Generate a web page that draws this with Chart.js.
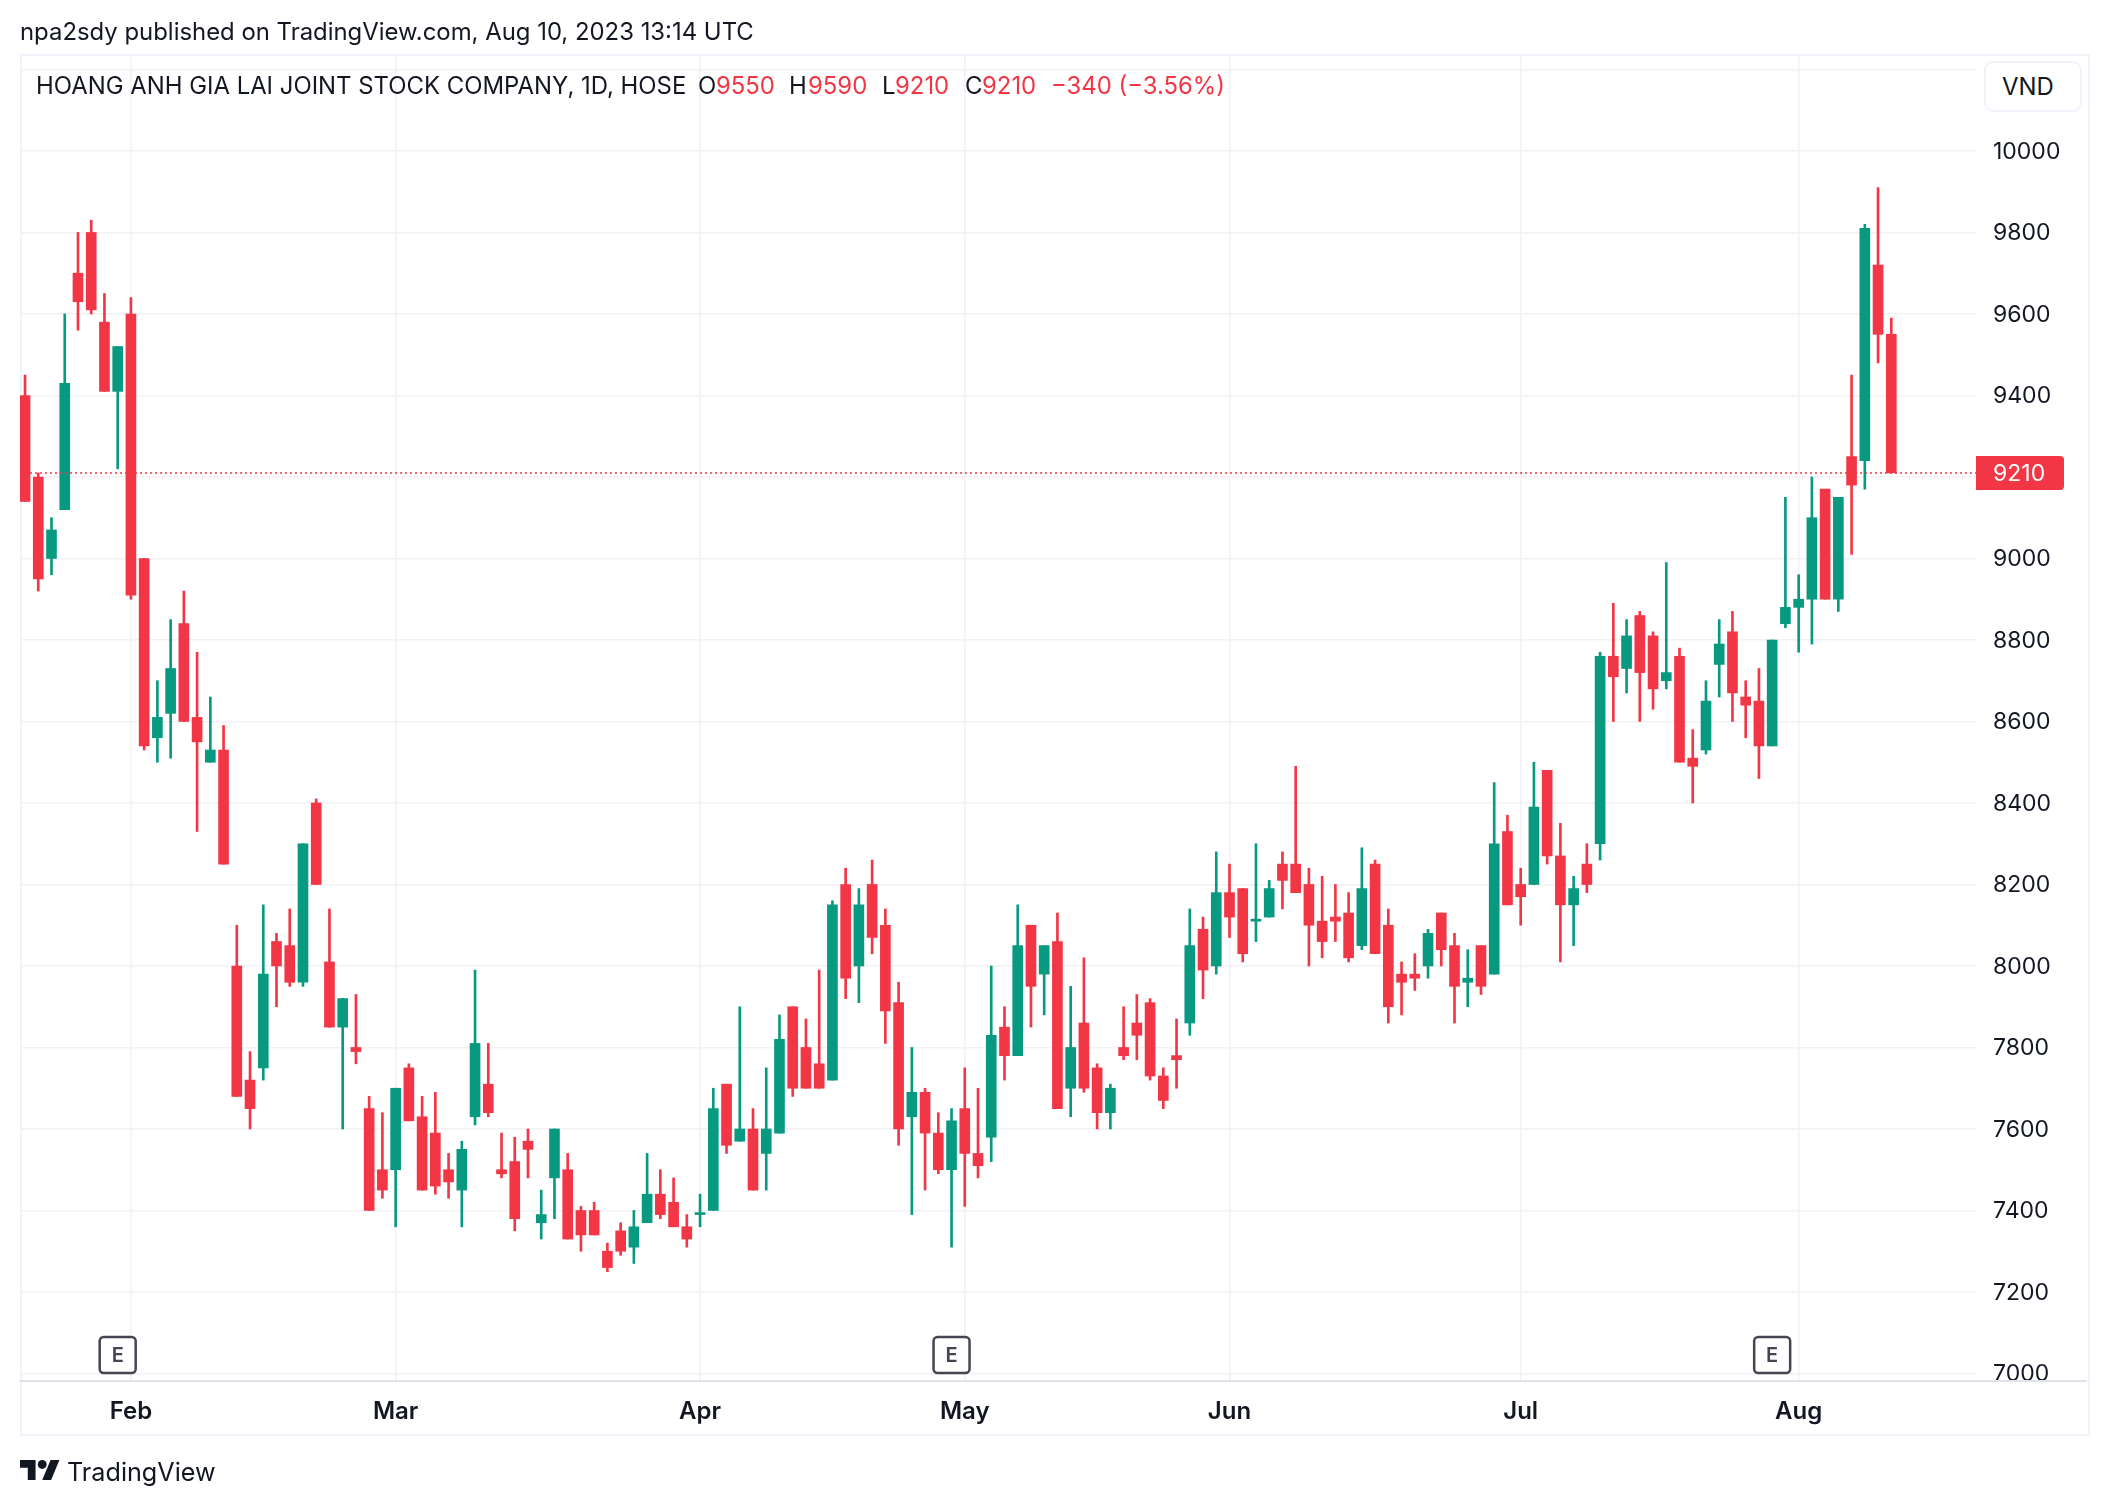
<!DOCTYPE html>
<html lang="en">
  <head>
    <meta charset="UTF-8" />
    <title>HAGL 1D</title>
    <script src="https://cdn.jsdelivr.net/npm/chart.js@4"></script>
    <style>
      body { margin: 0; background: #fff; font-family: Inter, sans-serif; color: #131722; }
      #wrap { position: relative; width: 2108px; height: 1506px; overflow: hidden; }
      #chart { position: absolute; left: 0; top: 0; }
      #frame { position: absolute; left: 20px; top: 54px; width: 2066px; height: 1378px; border: 2px solid #f0f3fa; }
      .t { position: absolute; font-size: 23.9px; line-height: 28px; white-space: nowrap; }
      .r { color: #f23645; }
      #vnd { position: absolute; left: 1984px; top: 61px; width: 94px; height: 47px; border: 2px solid #f0f3fa; border-radius: 9px;
             font-size: 23.9px; line-height: 47px; text-align: left; text-indent: 16px; background: #fff; }
    </style>
  </head>
  <body>
    <div id="wrap">
      <div id="frame"></div>
      <canvas id="chart" width="2108" height="1506"></canvas>
      <div class="t" style="left:20px;top:18px">npa2sdy published on TradingView.com, Aug 10, 2023 13:14 UTC</div>
      <div class="t" style="left:36px;top:72px">HOANG ANH GIA LAI JOINT STOCK COMPANY, 1D, HOSE</div>
      <div class="t" style="left:698px;top:72px">O</div>
      <div class="t r" style="left:716px;top:72px">9550</div>
      <div class="t" style="left:789px;top:72px">H</div>
      <div class="t r" style="left:808px;top:72px">9590</div>
      <div class="t" style="left:882px;top:72px">L</div>
      <div class="t r" style="left:895px;top:72px">9210</div>
      <div class="t" style="left:965px;top:72px">C</div>
      <div class="t r" style="left:982px;top:72px">9210</div>
      <div class="t r" style="left:1051px;top:72px">−340 (−3.56%)</div>
      <div id="vnd">VND</div>
      <svg style="position:absolute;left:20px;top:1460px" width="40" height="20" viewBox="0 4 36 18">
        <path fill="#131722" d="M14 22H7V11H0V4h14v18zM28 22h-8l7.5-18h8L28 22z" />
        <circle fill="#131722" cx="20" cy="8" r="4" />
      </svg>
      <div class="t" style="left:67px;top:1458px;font-size:25.2px">TradingView</div>
    </div>

    <script>
      const opens = [
        9400, 9200, 9000, 9120, 9700, 9800, 9580, 9410, 9600, 9000,
        8560, 8620, 8840, 8610, 8500, 8530, 8000, 7720, 7750, 8060,
        8050, 7960, 8400, 8010, 7850, 7800, 7650, 7500, 7500, 7750,
        7630, 7590, 7500, 7450, 7630, 7710, 7500, 7520, 7570, 7370,
        7480, 7500, 7400, 7400, 7300, 7350, 7310, 7370, 7440, 7420,
        7360, 7390, 7400, 7710, 7570, 7600, 7540, 7590, 7900, 7800,
        7760, 7720, 8200, 8000, 8200, 8100, 7910, 7630, 7690, 7590,
        7500, 7650, 7540, 7580, 7850, 7780, 8100, 7980, 8060, 7700,
        7860, 7750, 7640, 7800, 7860, 7910, 7730, 7780, 7860, 8090,
        8000, 8180, 8190, 8110, 8120, 8250, 8250, 8200, 8110, 8120,
        8130, 8050, 8250, 8100, 7980, 7980, 8000, 8130, 8050, 7960,
        8050, 7980, 8330, 8200, 8200, 8480, 8270, 8150, 8250, 8300,
        8760, 8730, 8860, 8810, 8700, 8760, 8510, 8530, 8740, 8820,
        8660, 8650, 8540, 8840, 8880, 8900, 9170, 8900, 9250, 9240,
        9720, 9550
      ];
      const highs = [
        9450, 9210, 9100, 9600, 9800, 9830, 9650, 9520, 9640, 9000,
        8700, 8850, 8920, 8770, 8660, 8590, 8100, 7790, 8150, 8080,
        8140, 8300, 8410, 8140, 7920, 7930, 7680, 7640, 7700, 7760,
        7680, 7690, 7540, 7570, 7990, 7810, 7590, 7580, 7600, 7450,
        7600, 7540, 7410, 7420, 7320, 7370, 7400, 7540, 7500, 7480,
        7390, 7440, 7700, 7710, 7900, 7650, 7750, 7880, 7900, 7870,
        7990, 8160, 8240, 8190, 8260, 8140, 7960, 7800, 7700, 7640,
        7650, 7750, 7700, 8000, 7900, 8150, 8100, 8050, 8130, 7950,
        8020, 7760, 7710, 7900, 7930, 7920, 7750, 7870, 8140, 8120,
        8280, 8250, 8190, 8300, 8210, 8280, 8490, 8240, 8220, 8200,
        8180, 8290, 8260, 8140, 8010, 8030, 8090, 8130, 8080, 8040,
        8050, 8450, 8370, 8240, 8500, 8480, 8350, 8220, 8300, 8770,
        8890, 8850, 8870, 8820, 8990, 8780, 8580, 8700, 8850, 8870,
        8700, 8730, 8800, 9150, 8960, 9200, 9170, 9150, 9450, 9820,
        9910, 9590
      ];
      const lows = [
        9140, 8920, 8960, 9120, 9560, 9600, 9410, 9220, 8900, 8530,
        8500, 8510, 8600, 8330, 8500, 8250, 7680, 7600, 7720, 7900,
        7950, 7950, 8200, 7850, 7600, 7760, 7400, 7430, 7360, 7620,
        7450, 7440, 7430, 7360, 7610, 7630, 7480, 7350, 7480, 7330,
        7380, 7330, 7300, 7340, 7250, 7290, 7270, 7370, 7380, 7360,
        7310, 7360, 7400, 7540, 7570, 7450, 7450, 7590, 7680, 7700,
        7700, 7720, 7920, 7910, 8030, 7810, 7560, 7390, 7450, 7490,
        7310, 7410, 7480, 7520, 7720, 7780, 7850, 7880, 7650, 7630,
        7690, 7600, 7600, 7770, 7770, 7720, 7650, 7700, 7830, 7920,
        7980, 8070, 8010, 8060, 8120, 8140, 8180, 8000, 8020, 8060,
        8010, 8040, 8030, 7860, 7880, 7940, 7970, 8000, 7860, 7900,
        7930, 7980, 8150, 8100, 8200, 8250, 8010, 8050, 8180, 8260,
        8600, 8670, 8600, 8630, 8680, 8500, 8400, 8520, 8660, 8600,
        8560, 8460, 8540, 8830, 8770, 8790, 8900, 8870, 9010, 9170,
        9480, 9210
      ];
      const closes = [
        9140, 8950, 9070, 9430, 9630, 9610, 9410, 9520, 8910, 8540,
        8610, 8730, 8600, 8550, 8530, 8250, 7680, 7650, 7980, 8000,
        7960, 8300, 8200, 7850, 7920, 7790, 7400, 7450, 7700, 7620,
        7450, 7460, 7470, 7550, 7810, 7640, 7490, 7380, 7550, 7390,
        7600, 7330, 7340, 7340, 7260, 7300, 7360, 7440, 7390, 7360,
        7330, 7390, 7650, 7560, 7600, 7450, 7600, 7820, 7700, 7700,
        7700, 8150, 7970, 8150, 8070, 7890, 7600, 7690, 7590, 7500,
        7620, 7540, 7510, 7830, 7780, 8050, 7950, 8050, 7650, 7800,
        7700, 7640, 7700, 7780, 7830, 7730, 7670, 7770, 8050, 7990,
        8180, 8120, 8030, 8110, 8190, 8210, 8180, 8100, 8060, 8110,
        8020, 8190, 8030, 7900, 7960, 7970, 8080, 8040, 7950, 7970,
        7950, 8300, 8150, 8170, 8390, 8270, 8150, 8190, 8200, 8760,
        8710, 8810, 8720, 8680, 8720, 8500, 8490, 8650, 8790, 8670,
        8640, 8540, 8800, 8880, 8900, 9100, 8900, 9150, 9180, 9810,
        9550, 9210
      ];
      const priceTicks = [7000, 7200, 7400, 7600, 7800, 8000, 8200, 8400, 8600, 8800, 9000, 9200, 9400, 9600, 9800, 10000, 10200];
      const monthBars = [8, 28, 51, 71, 91, 113, 134];
      const monthNames = ["Feb", "Mar", "Apr", "May", "Jun", "Jul", "Aug"];
      const earningsBars = [7, 70, 132];
      const lastPrice = closes[closes.length - 1];

      const UP = "#089981";
      const DOWN = "#f23645";
      const barColors = opens.map((o, i) => (closes[i] >= o ? UP : DOWN));

      // dotted last price line, price tag, axis line under the price column and the E markers
      const overlays = {
        id: "overlays",
        afterDatasetsDraw(chart) {
          const { ctx, scales, chartArea } = chart;
          const py = scales.y.getPixelForValue(lastPrice);
          ctx.save();
          ctx.strokeStyle = "#e0e3eb";
          ctx.lineWidth = 2;
          ctx.beginPath();
          ctx.moveTo(chartArea.right, chartArea.bottom);
          ctx.lineTo(2087, chartArea.bottom);
          ctx.stroke();

          ctx.strokeStyle = DOWN;
          ctx.lineWidth = 1.5;
          ctx.setLineDash([2, 3]);
          ctx.beginPath();
          ctx.moveTo(chartArea.left, py);
          ctx.lineTo(chartArea.right, py);
          ctx.stroke();
          ctx.setLineDash([]);

          ctx.fillStyle = DOWN;
          ctx.beginPath();
          ctx.roundRect(chartArea.right, py - 17, 88, 34, [0, 4, 4, 0]);
          ctx.fill();
          ctx.fillStyle = "#fff";
          ctx.font = "23px Inter";
          ctx.textBaseline = "middle";
          ctx.fillText(String(lastPrice), chartArea.right + 17, py + 1);

          earningsBars.forEach((b) => {
            const x = scales.x.getPixelForValue(b);
            ctx.fillStyle = "#fff";
            ctx.strokeStyle = "#434651";
            ctx.lineWidth = 2.5;
            ctx.beginPath();
            ctx.roundRect(x - 18, 1337, 36, 36, 4);
            ctx.fill();
            ctx.stroke();
            ctx.fillStyle = "#434651";
            ctx.font = "600 20px Inter";
            ctx.textAlign = "center";
            ctx.fillText("E", x, 1356);
          });
          ctx.restore();
        },
      };

      new Chart(document.getElementById("chart"), {
        type: "bar",
        data: {
          datasets: [
            {
              label: "wick",
              data: highs.map((h, i) => ({ x: i, y: [lows[i], h] })),
              backgroundColor: barColors,
              barThickness: 2,
              grouped: false,
              order: 2,
            },
            {
              label: "body",
              data: opens.map((o, i) => ({ x: i, y: [o, closes[i]] })),
              backgroundColor: barColors,
              barThickness: 10,
              minBarLength: 2,
              grouped: false,
              order: 1,
            },
          ],
        },
        options: {
          responsive: false,
          animation: false,
          layout: { padding: { left: 20, top: 56, right: 20, bottom: 69 } },
          plugins: { legend: { display: false }, tooltip: { enabled: false } },
          scales: {
            x: {
              type: "linear",
              offset: false,
              min: -0.38,
              max: 147.4,
              border: { display: true, color: "#e0e3eb", width: 2 },
              grid: { color: "#f2f2f5", lineWidth: 1.5, drawTicks: false, offset: false },
              afterBuildTicks: (s) => { s.ticks = monthBars.map((v) => ({ value: v })); },
              afterFit: (s) => { s.height = 56; },
              ticks: {
                autoSkip: false,
                maxRotation: 0,
                padding: 16,
                color: "#131722",
                font: { family: "Inter", size: 24, weight: "600" },
                callback: (v) => monthNames[monthBars.indexOf(v)],
              },
            },
            y: {
              position: "right",
              min: 6981.6,
              max: 10233,
              border: { display: false },
              grid: { color: "#f2f2f5", lineWidth: 1.5, drawTicks: false },
              afterBuildTicks: (s) => { s.ticks = priceTicks.map((v) => ({ value: v })); },
              afterFit: (s) => { s.width = 112; },
              ticks: {
                autoSkip: false,
                crossAlign: "near",
                padding: 17,
                labelOffset: 1,
                color: "#131722",
                font: { family: "Inter", size: 23 },
                // 10200 sits behind the VND button, 9200 behind the price tag
                callback: (v) => (v === 10200 || v === 9200 ? "" : String(v)),
              },
            },
          },
        },
        plugins: [overlays],
      });
    </script>
  </body>
</html>
